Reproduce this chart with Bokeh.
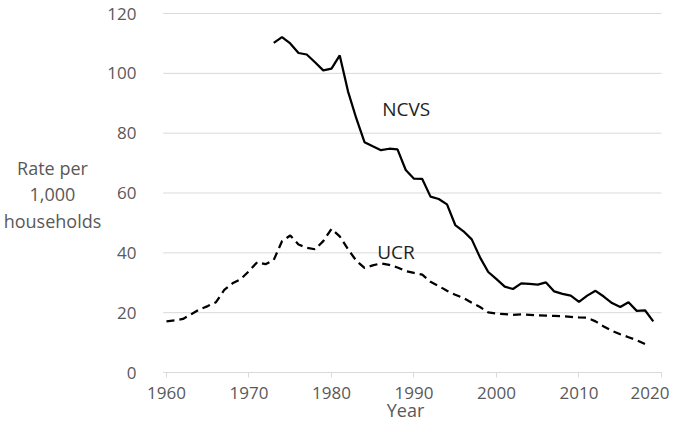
from bokeh.plotting import figure
from bokeh.models import Range1d, FixedTicker, Label
from bokeh.embed import file_html
from bokeh.resources import INLINE

# ---- data ----
ncvs_years = list(range(1973, 2020))
ncvs_rate = [110.2, 112.1, 110.0, 106.8, 106.3, 103.7, 101.0, 101.6, 106.0, 94.0,
             85.0, 77.0, 75.6, 74.3, 74.8, 74.6, 67.7, 64.8, 64.7, 58.8,
             58.0, 56.2, 49.3, 47.2, 44.5, 38.5, 33.6, 31.2, 28.7, 27.9,
             29.8, 29.6, 29.4, 30.1, 27.1, 26.3, 25.7, 23.6, 25.7, 27.3,
             25.4, 23.2, 21.9, 23.5, 20.6, 20.8, 17.1]

ucr_years = list(range(1960, 2019))
ucr_rate = [17.1, 17.4, 17.9, 19.5, 21.1, 22.2, 23.5, 27.6, 29.8, 31.2,
            33.9, 36.9, 36.2, 37.6, 43.9, 45.8, 42.8, 41.7, 41.2, 43.9,
            48.0, 45.5, 41.2, 37.4, 35.0, 35.8, 36.5, 36.0, 35.1, 33.9,
            33.3, 32.7, 30.3, 28.9, 27.3, 26.0, 24.9, 23.3, 21.9, 20.1,
            19.7, 19.5, 19.3, 19.4, 19.3, 19.1, 19.0, 18.9, 18.8, 18.6,
            18.4, 18.3, 17.1, 15.4, 13.9, 12.8, 11.8, 10.8, 9.5]

x_ticks = [1960, 1970, 1980, 1990, 2000, 2010, 2020]
y_ticks = [0, 20, 40, 60, 80, 100, 120]

series_labels = ["NCVS", "UCR"]
y_title_lines = ["Rate per", "1,000", "households"]
x_title = "Year"

FONT = "Open Sans"
GRAY = "#595959"
GRID = "#d9d9d9"

# the whole figure is the plot frame; axes are pinned inside it
p = figure(width=669, height=422, output_backend="svg", toolbar_location=None,
           x_range=Range1d(1939.88, 2020.97), y_range=Range1d(-16.71, 124.35),
           min_border=0)
p.outline_line_color = None
p.background_fill_color = "white"
p.border_fill_color = "white"
p.xgrid.grid_line_color = None
p.ygrid.grid_line_color = None

# horizontal gridlines limited to the 1960-2020 span
n = len(y_ticks)
p.segment(x0=[x_ticks[0] - 0.4] * n, x1=[x_ticks[-1]] * n, y0=y_ticks, y1=y_ticks,
          line_color=GRID, line_width=1)

# x axis pinned at y = 0
p.xaxis.fixed_location = 0
p.xaxis.bounds = (x_ticks[0], x_ticks[-1])
p.xaxis.ticker = FixedTicker(ticks=x_ticks)
p.xaxis.axis_line_color = GRID
p.xaxis.major_tick_line_color = GRID
p.xaxis.major_tick_out = 5
p.xaxis.major_tick_in = 0
p.xaxis.minor_tick_line_color = None
p.xaxis.major_label_standoff = 9

# y axis pinned at x = 1960
p.yaxis.fixed_location = x_ticks[0]
p.yaxis.ticker = FixedTicker(ticks=y_ticks)
p.yaxis.axis_line_color = None
p.yaxis.major_tick_line_color = None
p.yaxis.minor_tick_line_color = None
p.yaxis.major_label_standoff = 24

for ax in (p.xaxis, p.yaxis):
    ax.major_label_text_font = FONT
    ax.major_label_text_font_size = "17px"
    ax.major_label_text_color = GRAY

# series
p.line(ncvs_years, ncvs_rate, line_color="black", line_width=2.25)
p.line(ucr_years, ucr_rate, line_color="black", line_width=2.25, line_dash="8 5")

# in-plot series labels
p.add_layout(Label(x=1986.15, y=88.2, text=series_labels[0], text_font=FONT,
                   text_font_size="19px", text_color="#1e1e1e",
                   text_align="left", text_baseline="middle"))
p.add_layout(Label(x=1985.54, y=40.4, text=series_labels[1], text_font=FONT,
                   text_font_size="19px", text_color="#1e1e1e",
                   text_align="left", text_baseline="middle"))

# y-axis title (three centered lines)
for txt, yy in zip(y_title_lines, [68.3, 59.5, 50.7]):
    p.add_layout(Label(x=1946.18, y=yy, text=txt, text_font=FONT,
                       text_font_size="18px", text_color=GRAY,
                       text_align="center", text_baseline="middle"))

# x-axis title
p.add_layout(Label(x=1988.97, y=-12.37, text=x_title, text_font=FONT,
                   text_font_size="18px", text_color=GRAY,
                   text_align="center", text_baseline="middle"))

open("out.html", "w").write(file_html(p, INLINE))
